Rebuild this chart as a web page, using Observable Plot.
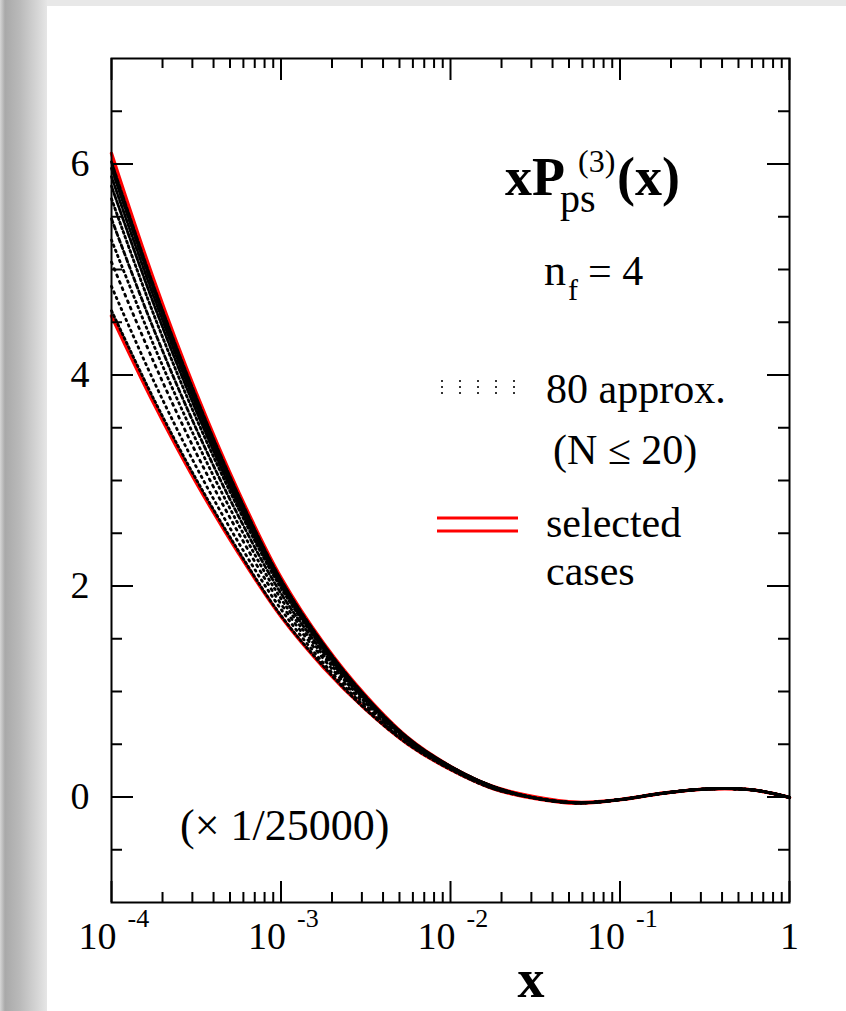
<!DOCTYPE html>
<html><head><meta charset="utf-8">
<script src="https://cdn.jsdelivr.net/npm/d3@7/dist/d3.min.js"></script>
<script src="https://cdn.jsdelivr.net/npm/@observablehq/plot@0.6/dist/plot.umd.min.js"></script>
<style>
html,body{margin:0;padding:0;width:846px;height:1011px;overflow:hidden;background:#fff;}
#topbar{position:absolute;left:0;top:0;width:846px;height:6px;background:#e8e8e8;}
#leftbar{position:absolute;left:0;top:0;width:47px;height:1011px;background:linear-gradient(to right,#d6d6d6 0px,#a9a9a9 5px,#bababa 20px,#dadada 40px,#e6e6e6 47px);}
#chart{position:absolute;left:0;top:0;width:846px;height:1011px;}
#chart svg{max-width:none !important;}
#err{position:absolute;left:60px;top:20px;color:#c00;font:14px monospace;white-space:pre-wrap;width:760px;}
</style></head><body>
<div id="topbar"></div><div id="leftbar"></div><div id="chart"></div><div id="err"></div>
<script>
try {
// ---- data ----
const xGrid = [1e-4, 1.778e-4, 3.162e-4, 5.623e-4, 1e-3, 1.778e-3, 3.162e-3, 5.623e-3,
               1e-2, 1.778e-2, 3.162e-2, 5.623e-2, 0.1, 0.1778, 0.3162, 0.5623, 0.7943, 1];
const selectedUpper = [6.10, 4.90, 3.83, 2.89, 2.08, 1.46, 0.96, 0.56, 0.29, 0.10, 0.00, -0.05, -0.025, 0.035, 0.075, 0.072, 0.035, -0.005];
const selectedLower = [4.56, 3.73, 2.98, 2.31, 1.71, 1.23, 0.83, 0.50, 0.26, 0.08, -0.015, -0.06, -0.025, 0.035, 0.075, 0.072, 0.035, -0.005];
// approximations: first 10 grid points (where they differ), then a common tail
const approx1  = [4.61, 3.77, 3.01, 2.33, 1.72, 1.24, 0.83, 0.50, 0.26, 0.08];
const approx2  = [4.84, 3.94, 3.13, 2.41, 1.78, 1.27, 0.85, 0.51, 0.27, 0.08];
const approx3  = [5.07, 4.12, 3.26, 2.50, 1.83, 1.31, 0.87, 0.52, 0.27, 0.09];
const approx4  = [5.28, 4.28, 3.38, 2.58, 1.88, 1.34, 0.89, 0.53, 0.27, 0.09];
const approx5  = [5.48, 4.43, 3.49, 2.66, 1.93, 1.37, 0.91, 0.54, 0.28, 0.09];
const approx6  = [5.67, 4.57, 3.59, 2.73, 1.98, 1.40, 0.92, 0.54, 0.28, 0.09];
const approx7  = [5.79, 4.67, 3.66, 2.77, 2.01, 1.41, 0.93, 0.55, 0.28, 0.10];
const approx8  = [5.88, 4.74, 3.71, 2.81, 2.03, 1.43, 0.94, 0.55, 0.29, 0.10];
const approx9  = [5.96, 4.80, 3.75, 2.84, 2.05, 1.44, 0.95, 0.55, 0.29, 0.10];
const approx10 = [6.02, 4.84, 3.79, 2.86, 2.06, 1.45, 0.95, 0.56, 0.29, 0.10];
const approxTail = [-0.01, -0.055, -0.025, 0.035, 0.075, 0.072, 0.035, -0.005];

const yMajorTicks = [0, 2, 4, 6];
const yMinorTicks = [-0.5, 0.5, 1, 1.5, 2.5, 3, 3.5, 4.5, 5, 5.5, 6.5];
const xDecades = [1e-4, 1e-3, 1e-2, 1e-1, 1];
const xMultipliers = [2, 3, 4, 5, 6, 7, 8, 9];
const xExponentLabels = ["-4", "-3", "-2", "-1"];

// ---- styles / layout ----
const approxDashes = ["2,3", "1.5,4.5", "2,5", "1.5,4", "4,3", "2,3", "6,2", "3,2", "7,2", "4,2"];
const W = 846, H = 1011, ML = 111, MR = 57, MT = 58, MB = 109;
const FW = W - ML - MR, FH = H - MT - MB;
const FONT = "'Liberation Serif','Times New Roman',Times,serif";

const rows = arr => xGrid.map((x, i) => ({x, y: arr[i]}));
const approxSeries = [approx1, approx2, approx3, approx4, approx5, approx6, approx7, approx8, approx9, approx10]
  .map(h => h.concat(approxTail));
const xMinorTicks = xDecades.slice(0, 4).flatMap(d => xMultipliers.map(m => d * m));

const tickStyle = {stroke: "#000", strokeWidth: 2};

const chart = Plot.plot({
  width: W, height: H,
  marginLeft: ML, marginRight: MR, marginTop: MT, marginBottom: MB,
  style: {background: "transparent", fontFamily: FONT, overflow: "visible", maxWidth: "none"},
  x: {type: "log", domain: [1e-4, 1], axis: null},
  y: {domain: [-1, 7], axis: null},
  marks: [
    Plot.line(rows(selectedUpper), {x: "x", y: "y", stroke: "#ff0000", strokeWidth: 3.4, curve: "catmull-rom"}),
    Plot.line(rows(selectedLower), {x: "x", y: "y", stroke: "#ff0000", strokeWidth: 3.4, curve: "catmull-rom"}),
    ...approxSeries.map((s, k) => Plot.line(rows(s), {
      x: "x", y: "y", stroke: "#000", strokeWidth: 2.8, strokeDasharray: approxDashes[k], curve: "catmull-rom"
    })),
    Plot.ruleY(yMinorTicks, {...tickStyle, insetRight: FW - 11}),
    Plot.ruleY(yMajorTicks, {...tickStyle, insetRight: FW - 22}),
    Plot.ruleY(yMinorTicks, {...tickStyle, insetLeft: FW - 11}),
    Plot.ruleY(yMajorTicks, {...tickStyle, insetLeft: FW - 22}),
    Plot.ruleX(xMinorTicks, {...tickStyle, insetTop: FH - 10}),
    Plot.ruleX(xDecades, {...tickStyle, insetTop: FH - 21}),
    Plot.ruleX(xMinorTicks, {...tickStyle, insetBottom: FH - 10}),
    Plot.ruleX(xDecades, {...tickStyle, insetBottom: FH - 22}),
    Plot.frame({stroke: "#000", strokeWidth: 2}),
    Plot.text(yMajorTicks, {y: d => d, text: d => String(d), frameAnchor: "left", textAnchor: "end",
      dx: -22, fontSize: 38, fontFamily: FONT, fill: "#000"}),
    Plot.text(xDecades.slice(0, 4), {x: d => d, text: () => "10", frameAnchor: "bottom", textAnchor: "end",
      dx: 5, dy: 46, fontSize: 38, fontFamily: FONT, fill: "#000"}),
    Plot.text(xDecades.slice(0, 4), {x: d => d, text: (d, i) => xExponentLabels[i], frameAnchor: "bottom", textAnchor: "start",
      dx: 16, dy: 24, fontSize: 26, fontFamily: FONT, fill: "#000"}),
    Plot.text([1], {x: d => d, text: () => "1", frameAnchor: "bottom", textAnchor: "middle",
      dy: 46, fontSize: 38, fontFamily: FONT, fill: "#000"})
  ]
});
chart.style.position = "absolute";
chart.style.left = "0px";
chart.style.top = "0px";
chart.style.maxWidth = "none";
chart.setAttribute("width", W);
chart.setAttribute("height", H);
document.getElementById("chart").appendChild(chart);

// ---- annotations ----
const NS = "http://www.w3.org/2000/svg";
function addText(str, x, y, size, opt = {}) {
  const t = document.createElementNS(NS, "text");
  t.setAttribute("x", x); t.setAttribute("y", y);
  t.setAttribute("font-size", size);
  t.setAttribute("font-family", FONT);
  t.setAttribute("font-weight", opt.weight || "normal");
  t.setAttribute("text-anchor", opt.anchor || "start");
  t.setAttribute("fill", "#000");
  t.textContent = str;
  chart.appendChild(t);
  return t;
}
function addLine(x1, y1, x2, y2, stroke, width, dash) {
  const l = document.createElementNS(NS, "line");
  l.setAttribute("x1", x1); l.setAttribute("y1", y1);
  l.setAttribute("x2", x2); l.setAttribute("y2", y2);
  l.setAttribute("stroke", stroke); l.setAttribute("stroke-width", width);
  if (dash) l.setAttribute("stroke-dasharray", dash);
  chart.appendChild(l);
}
addText("x", 531, 997, 54, {weight: "bold", anchor: "middle"});
addText("xP", 505, 195, 54, {weight: "bold"});
addText("ps", 560, 212, 40);
addText("(3)", 578, 172, 32);
addText("(x)", 617, 195, 54, {weight: "bold"});
addText("n", 544, 285, 44);
addText("f", 568, 300, 30);
addText("= 4", 588, 285, 42);
addLine(441, 381, 516, 381, "#333", 2, "2,16");
addLine(441, 387, 516, 387, "#333", 2, "2,16");
addLine(441, 393, 516, 393, "#333", 2, "2,16");
addText("80 approx.", 546, 403, 42);
addText("(N \u2264 20)", 553, 464, 42);
addLine(437, 518, 518, 518, "#ff0000", 3);
addLine(437, 531, 518, 531, "#ff0000", 3);
addText("selected", 546, 537, 42);
addText("cases", 546, 585, 42);
addText("(\u00d7 1/25000)", 180, 840, 44);
} catch (e) {
  document.getElementById("err").textContent = String(e && e.stack || e) + "\n Plot=" + (typeof Plot) + " d3=" + (typeof d3);
}
</script></body></html>
